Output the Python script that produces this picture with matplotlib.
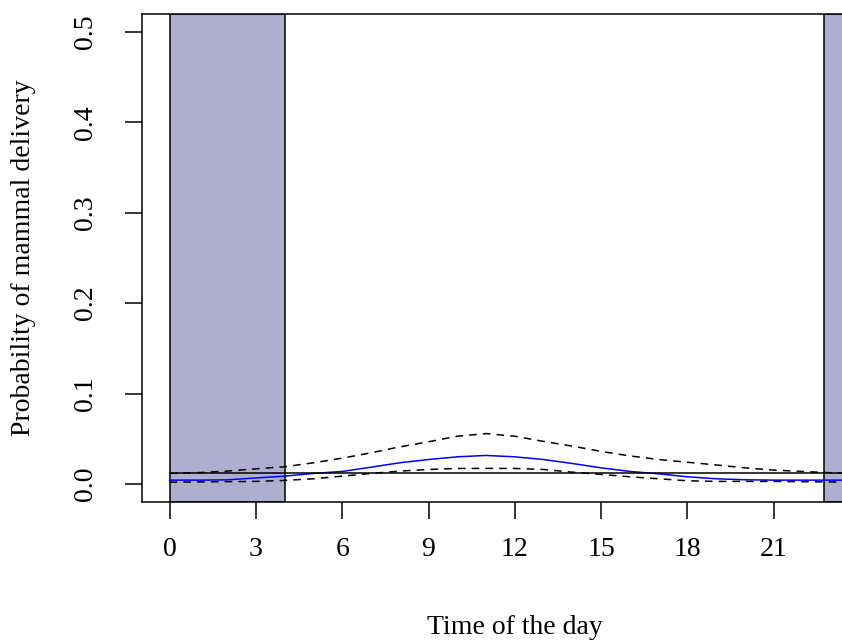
import matplotlib
matplotlib.use("Agg")
import matplotlib.pyplot as plt

# hours of the day
hours = [0, 1, 2, 3, 4, 5, 6, 7, 8, 9, 10, 11, 12,
         13, 14, 15, 16, 17, 18, 19, 20, 21, 22, 23, 24]

# fitted probability (blue) and its confidence band (dashed)
fit = [0.0042, 0.0042, 0.0045, 0.0066, 0.0086, 0.0116, 0.0138, 0.0185, 0.0234, 0.027, 0.030, 0.0315, 0.030,
       0.027, 0.0226, 0.0178, 0.0138, 0.0112, 0.0079, 0.0057, 0.0046, 0.0042, 0.0042, 0.0042, 0.0042]
upper = [0.0116, 0.0125, 0.0142, 0.0167, 0.019, 0.0234, 0.0285, 0.0344, 0.041, 0.0466, 0.0528, 0.0557, 0.0528,
         0.047, 0.0418, 0.036, 0.031, 0.027, 0.024, 0.021, 0.0178, 0.0153, 0.0138, 0.0123, 0.0116]
lower = [0.002, 0.0022, 0.0025, 0.0028, 0.0039, 0.0057, 0.0086, 0.0116, 0.0142, 0.016, 0.0171, 0.0172, 0.0171,
         0.016, 0.013, 0.0105, 0.0079, 0.0057, 0.0035, 0.0028, 0.0028, 0.0028, 0.0025, 0.0022, 0.002]
mean_level = 0.0125

# night periods
night = [(0, 4), (22.75, 24)]

xticks = [0, 3, 6, 9, 12, 15, 18, 21]
yticks = [0.0, 0.1, 0.2, 0.3, 0.4, 0.5]

plt.rcParams['font.family'] = ['Liberation Serif', 'DejaVu Serif']

fig = plt.figure(figsize=(8.42, 6.41), dpi=100)
ax = fig.add_axes([142 / 842, 1 - 502 / 641, (887.6 - 142) / 842, 488 / 641])

for a, b in night:
    ax.axvspan(a, b, facecolor="#aeafcf", edgecolor="black", linewidth=1.1, zorder=1)

ax.plot(hours, fit, color="blue", lw=1.1, zorder=3)
ax.plot(hours, upper, color="black", lw=1.1, dashes=(5, 4), zorder=3)
ax.plot(hours, lower, color="black", lw=1.1, dashes=(5, 4), zorder=3)
ax.plot([hours[0], hours[-1]], [mean_level, mean_level], color="black", lw=1.1, zorder=3)

ax.set_xlim(-0.96, 24.96)
ax.set_ylim(-0.02, 0.52)
ax.set_xticks(xticks)
ax.set_xticklabels([str(t) for t in xticks])
ax.set_yticks(yticks)
ax.set_yticklabels(["%.1f" % t for t in yticks], rotation=90, va="center")

ax.tick_params(axis="both", length=12, width=1.1, labelsize=20, colors="black")
ax.tick_params(axis="x", pad=13)
ax.tick_params(axis="y", pad=20)
for s in ax.spines.values():
    s.set_linewidth(1.1)

ax.set_xlabel("Time of the day", fontsize=20, labelpad=38)
ax.set_ylabel("Probability of mammal delivery", fontsize=20, labelpad=26)

fig.savefig("out.png", dpi=100)
